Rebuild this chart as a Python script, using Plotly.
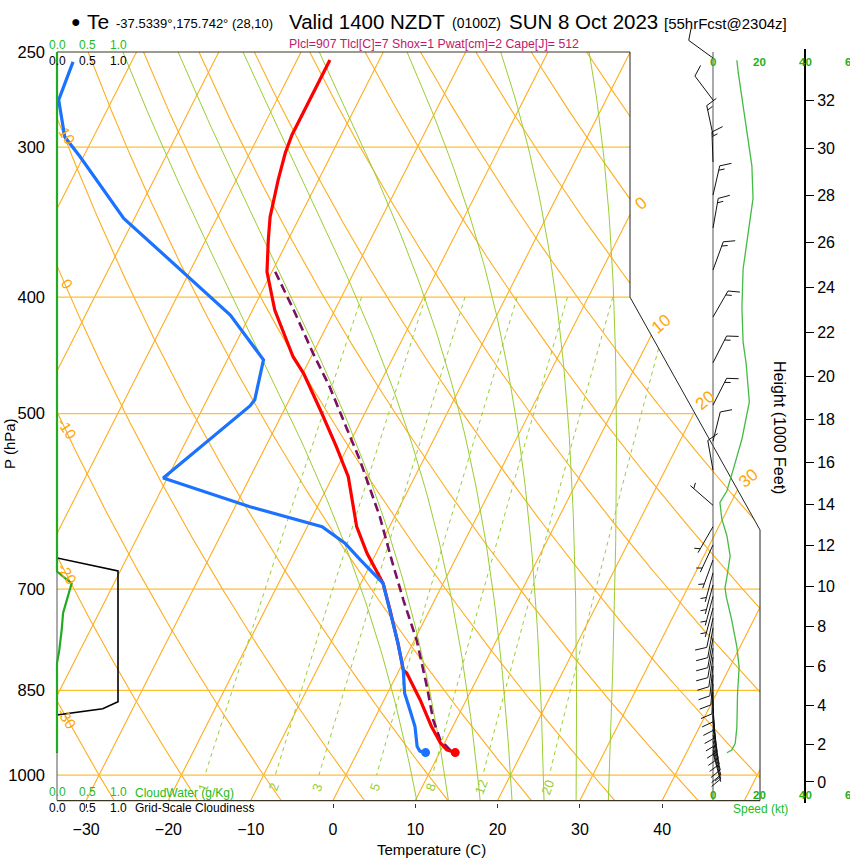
import numpy as np
import plotly.graph_objects as go

W, H = 850, 860

# ---------------- sounding data ----------------
temp_p = [253.9, 293.1, 303.4, 319.5, 343.0, 358.5, 381.0, 410.0, 448.4, 462.9, 496.6, 532.7,
          564.3, 621.1, 653.6, 692.3, 728.8, 776.6, 817.5, 822.2, 865.9, 911.0, 940.2, 952.8, 957.8]
temp_c = [-46.0, -46.0, -45.7, -44.9, -43.6, -42.4, -40.6, -37.3, -32.2, -29.9, -25.6, -21.4,
          -18.1, -14.0, -11.1, -7.3, -4.8, -1.8, 0.5, 1.1, 4.4, 7.4, 9.5, 10.7, 11.9]

dewp_p = [254.8, 274.1, 294.1, 305.6, 343.9, 413.9, 451.1, 487.0, 492.8, 565.8, 597.8, 621.1,
          641.1, 662.0, 692.3, 728.8, 776.6, 817.5, 854.9, 883.2, 911.0, 946.8, 955.0, 957.8]
dewp_c = [-77.1, -76.5, -73.5, -70.4, -61.3, -42.4, -35.6, -34.2, -34.4, -40.5, -28.2, -18.2,
          -14.4, -11.5, -7.3, -4.8, -1.8, 0.5, 2.1, 3.8, 5.4, 6.9, 7.5, 8.3]

parcel_p = [381.0, 410.0, 445.3, 475.0, 513.2, 546.7, 609.3, 662.0, 714.9, 772.3, 844.1,
            899.5, 934.8, 952.8, 957.8]
parcel_c = [-39.6, -35.0, -30.0, -25.9, -21.4, -17.7, -11.8, -7.7, -3.8, 0.3, 4.4,
            7.2, 9.3, 11.1, 11.9]

cloud_p = [250.0, 649.5, 676.9, 692.3, 708.0, 732.8, 756.6, 786.6, 806.6, 958.0]
cloud_water = [0.0, 0.0, 0.0, 0.24, 0.185, 0.10, 0.077, 0.038, 0.0, 0.0]

cover_p = [250.0, 659.5, 676.0, 868.8, 880.5, 891.1, 958.0]
cover = [0.0, 0.0, 1.0, 1.0, 0.75, 0.0, 0.0]

speed_p = [254, 260, 311, 331, 379, 408, 436, 454, 489, 525, 557, 580, 593, 612, 632, 657,
           684, 698, 710, 743, 782, 813, 855, 913, 941, 953, 958]
speed_kt = [10.3, 10.9, 16.8, 17.3, 13.0, 12.5, 13.0, 14.3, 15.7, 12.5, 8.7, 6.0, 3.0, 3.8,
            6.0, 7.4, 6.0, 5.2, 5.7, 8.1, 10.3, 11.3, 10.6, 10.3, 9.6, 8.1, 6.0]

barb_p = [252.9, 274.1, 293.1, 308.7, 328.9, 350.3, 379.7, 415.5, 453.6, 491.9, 527.1, 557.2,
          596.2, 621.1, 643.2, 662.0, 678.6, 694.6, 710.0, 725.9, 740.0, 754.4, 769.1, 784.0,
          797.5, 811.3, 825.3, 839.6, 852.5, 865.9, 878.9, 891.1, 903.1, 915.3, 925.8, 936.5,
          945.5, 952.8, 958.0]
barb_dir = [306, 323, 348, 358, 13, 10, 20, 30, 27, 27, 14, 350,
            311, 210, 205, 200, 195, 195, 195, 195, 192, 190, 190, 190,
            188, 186, 184, 182, 180, 178, 176, 174, 172, 170, 168, 166,
            165, 165, 165]
barb_kt = [10.2, 12.5, 14.7, 16.6, 17.2, 15.6, 13.0, 12.6, 14.3, 15.5, 12.3, 8.7,
           3.2, 4.8, 6.4, 7.1, 6.2, 5.4, 5.7, 6.9, 7.9, 8.8, 9.6, 10.4,
           10.8, 11.3, 11.1, 10.9, 10.6, 10.5, 10.5, 10.4, 10.3, 10.3, 10.0, 9.7,
           9.1, 8.2, 6.0]

height_kft = list(range(0, 34, 2))
temp_ticks = list(range(-30, 50, 10))
p_ticks = [250, 300, 400, 500, 700, 850, 1000]
p_lines = [300, 400, 500, 700, 850, 1000]
isotherms = list(range(-110, 60, 10))
dry_adiabats = list(range(-30, 180, 10))
moist_adiabats = [8, 12, 16, 20, 24, 28, 32]
mix_ratios = [1, 2, 3, 5, 8, 12, 20]

# ---------------- frame calibration (NCL style skew-T) ----------------
X0, KX = 333.0, 8.229      # px of 0C at 1050 hPa, px per degree
Y250, KY = 52.0, 521.6     # px of 250 hPa, px per ln(p)
SKEW = 74.0                # degrees per decade of pressure
P_TOP, P_BOT = 250.0, 1050.0
KT = 2.315                 # px per knot in the wind panel
XW0 = 713.0                # px of the wind staff line
XC0, KC = 57.0, 61.0       # cloud panel: px of 0 and px per unit


def p_of_py(py):
    return 250.0 * np.exp((py - Y250) / KY)


def ts_of_px(px):
    return (px - X0) / KX


def skew(t, p):
    return np.asarray(t, float) + SKEW * np.log10(P_BOT / np.asarray(p, float))


TS_L, TS_RT, TS_R = ts_of_px(57), ts_of_px(630), ts_of_px(760)
P_C1, P_C2 = 400.0, 625.0


def ts_max(p):
    f = np.clip((np.log(p) - np.log(P_C1)) / (np.log(P_C2) - np.log(P_C1)), 0, 1)
    return TS_RT + f * (TS_R - TS_RT)


def clip(xs, ps):
    xs = np.asarray(xs, float)
    ps = np.asarray(ps, float)
    g = np.minimum(ts_max(ps) - xs, xs - TS_L)
    ox, op = [], []
    for i in range(len(xs)):
        if i > 0 and (g[i - 1] >= 0) != (g[i] >= 0):
            f = g[i - 1] / (g[i - 1] - g[i])
            ox.append(xs[i - 1] + f * (xs[i] - xs[i - 1]))
            op.append(np.exp(np.log(ps[i - 1]) + f * (np.log(ps[i]) - np.log(ps[i - 1]))))
            if g[i] < 0:
                ox.append(None)
                op.append(None)
        if g[i] >= 0:
            ox.append(xs[i])
            op.append(ps[i])
    ox.append(None)
    op.append(None)
    return ox, op


pgrid = np.exp(np.linspace(np.log(P_TOP), np.log(P_BOT), 800))


def moist_temp(tw, p_arr):
    Rd, cp, Lv, eps = 287.04, 1005.7, 2.501e6, 0.622

    def f(lnp, T):
        p = np.exp(lnp)
        es = 6.112 * np.exp(17.67 * (T - 273.15) / (T - 29.65))
        rs = eps * es / (p - es)
        return (Rd * T + Lv * rs) / (cp + Lv * Lv * rs * eps / (Rd * T * T))

    out = []
    for target in p_arr:
        n = 60
        lp0, lp1 = np.log(1000.0), np.log(target)
        h = (lp1 - lp0) / n
        T, lp = tw + 273.15, lp0
        for _ in range(n):
            k1 = f(lp, T)
            k2 = f(lp + h / 2, T + h / 2 * k1)
            k3 = f(lp + h / 2, T + h / 2 * k2)
            k4 = f(lp + h, T + h * k3)
            T += h / 6 * (k1 + 2 * k2 + 2 * k3 + k4)
            lp += h
        out.append(T - 273.15)
    return np.array(out)


def mix_temp(w, p):
    e = w * p / (622.0 + w)
    a = np.log(e / 6.112)
    return 243.5 * a / (17.67 - a)


fig = go.Figure()


def add_line(xs, ys, color, width=1.0, dash=None, xa='x', ya='y'):
    fig.add_trace(go.Scatter(x=xs, y=ys, mode='lines', xaxis=xa, yaxis=ya,
                             line=dict(color=color, width=width, dash=dash),
                             hoverinfo='skip', showlegend=False))


ORANGE = '#ffad1f'
PLINE = '#ffbf33'
YGREEN = '#9acd32'

# isotherms + dry adiabats
bx, bp = [], []
for t in isotherms:
    a, b = clip(skew(t, pgrid), pgrid)
    bx += a; bp += b
for th in dry_adiabats:
    tt = (th + 273.15) * (pgrid / 1000.0) ** 0.2857 - 273.15
    a, b = clip(skew(tt, pgrid), pgrid)
    bx += a; bp += b
add_line(bx, bp, ORANGE, 1.1)

# pressure lines
lx, lp = [], []
for p in p_lines:
    xs = np.linspace(TS_L, TS_R, 400)
    a, b = clip(xs, np.full_like(xs, p))
    lx += a; lp += b
add_line(lx, lp, PLINE, 1.2)

# moist adiabats
mgrid = np.exp(np.linspace(np.log(P_TOP), np.log(P_BOT), 90))
mx, mp = [], []
for tw in moist_adiabats:
    a, b = clip(skew(moist_temp(tw, mgrid), mgrid), mgrid)
    mx += a; mp += b
add_line(mx, mp, YGREEN, 1.0)

# mixing ratio lines
wgrid = np.exp(np.linspace(np.log(400), np.log(1000), 200))
wx, wp = [], []
for w in mix_ratios:
    a, b = clip(skew(mix_temp(w, wgrid), wgrid), wgrid)
    wx += a; wp += b
add_line(wx, wp, YGREEN, 1.0, dash='4px,4px')

# frame
FRAME = '#3b3524'
add_line([TS_L, TS_RT], [P_TOP, P_TOP], FRAME, 1.2)
add_line([TS_L, TS_R], [P_BOT, P_BOT], FRAME, 1.2)
add_line([TS_RT, TS_RT, TS_R, TS_R], [P_TOP, P_C1, P_C2, P_BOT], '#222222', 1.0)
add_line([TS_L, TS_L], [P_TOP, P_BOT], '#555555', 1.0)

# parcel, temperature, dewpoint
add_line(skew(parcel_c, parcel_p), parcel_p, '#7b0f63', 2.6, dash='9px,5px')
add_line(skew(temp_c, temp_p), temp_p, '#ff0000', 3.2)
add_line(skew(dewp_c, dewp_p), dewp_p, '#1a72ff', 3.2)
fig.add_trace(go.Scatter(x=skew([temp_c[-1]], [temp_p[-1]]), y=[temp_p[-1]], mode='markers',
                         marker=dict(color='#ff0000', size=9), hoverinfo='skip', showlegend=False))
fig.add_trace(go.Scatter(x=skew([dewp_c[-1]], [dewp_p[-1]]), y=[dewp_p[-1]], mode='markers',
                         marker=dict(color='#1a72ff', size=9), hoverinfo='skip', showlegend=False))

# cloud panel (x3)
add_line(cover, cover_p, '#000000', 1.6, xa='x3')
add_line(cloud_water, cloud_p, '#22aa22', 2.2, xa='x3')

# wind panel (x2 / y2)
add_line([0, 0], [P_TOP, P_BOT], '#555555', 1.0, xa='x2', ya='y2')
add_line(speed_kt, speed_p, '#44bb44', 1.3, xa='x2', ya='y2')

L_STAFF, L_FULL, SPACING, FANG = 30.0, 12.0, 4.5, 65.0
bxs, bps = [], []
for p, d, s in zip(barb_p, barb_dir, barb_kt):
    r = np.deg2rad(d)
    ux, uy = np.sin(r), -np.cos(r)
    tip = (L_STAFF * ux, L_STAFF * uy)
    segs = [((0.0, 0.0), tip)]
    n5 = int(round(s / 5.0))
    full, half = divmod(n5, 2)
    fr = np.deg2rad(d + FANG)
    fx, fy = np.sin(fr), -np.cos(fr)
    pos = 0.0
    for _ in range(full):
        b0 = (tip[0] - pos * ux, tip[1] - pos * uy)
        segs.append((b0, (b0[0] + L_FULL * fx, b0[1] + L_FULL * fy)))
        pos += SPACING
    if half:
        if full == 0:
            pos = SPACING
        b0 = (tip[0] - pos * ux, tip[1] - pos * uy)
        segs.append((b0, (b0[0] + 0.5 * L_FULL * fx, b0[1] + 0.5 * L_FULL * fy)))
    for (x1, y1), (x2, y2) in segs:
        bxs += [x1 / KT, x2 / KT, None]
        bps += [p * np.exp(y1 / KY), p * np.exp(y2 / KY), None]
add_line(bxs, bps, '#111111', 1.0, xa='x2', ya='y2')

# dummy trace for height axis
height_p = [1013.25 * (1 - 2.25577e-5 * h * 304.8) ** 5.25588 for h in height_kft]
fig.add_trace(go.Scatter(x=[None], y=[None], yaxis='y3', showlegend=False))

# ---------------- annotations ----------------
FONT = 'Liberation Sans, Arial, sans-serif'
ann = []


def px_note(text, x, y, size, color='#000000', xanchor='center', angle=0, yanchor='middle'):
    ann.append(dict(text=text, x=x / W, y=1 - y / H, xref='paper', yref='paper',
                    xanchor=xanchor, yanchor=yanchor, showarrow=False, textangle=angle,
                    font=dict(family=FONT, size=size, color=color)))


# isotherm labels on the right edge
for t in [0, 10, 20, 30]:
    xs = skew(t, pgrid)
    g = ts_max(pgrid) - xs
    i = np.argmax(g >= 0)
    ann.append(dict(text=str(t), x=xs[i], y=np.log10(pgrid[i]), xref='x', yref='y',
                    showarrow=False, xshift=11, yshift=12, textangle=-40,
                    font=dict(family=FONT, size=17, color='#ffa500')))
# dry adiabat labels on the left edge
for th in [-30, -20, -10, 0, 10]:
    tt = (th + 273.15) * (pgrid / 1000.0) ** 0.2857 - 273.15
    g = skew(tt, pgrid) - TS_L
    i = np.argmax(g >= 0)
    ann.append(dict(text=str(th), x=TS_L, y=np.log10(pgrid[i]), xref='x', yref='y',
                    showarrow=False, xshift=10, yshift=-17, textangle=57,
                    font=dict(family=FONT, size=15, color='#ffa500')))
# mixing ratio labels
for w in mix_ratios:
    ann.append(dict(text=str(w), x=float(skew(mix_temp(w, 1000.0), 1000.0)), y=3.0,
                    xref='x', yref='y', showarrow=False, xshift=-2, yshift=-12, textangle=-70,
                    font=dict(family=FONT, size=13, color=YGREEN)))

# header
px_note('\u25cf', 76, 22, 16)
px_note('Te', 85, 22, 21, xanchor='left')
px_note('-37.5339\u00b0,175.742\u00b0 (28,10)', 114, 23, 13, xanchor='left')
px_note('Valid 1400 NZDT', 287, 22, 20.5, xanchor='left')
px_note('(0100Z)', 450, 23, 14, xanchor='left')
px_note('SUN 8 Oct 2023', 507, 22, 20.5, xanchor='left')
px_note('[55hrFcst@2304z]', 662, 23, 15, xanchor='left')
px_note('Plcl=907 Tlcl[C]=7 Shox=1 Pwat[cm]=2 Cape[J]= 512', 287, 44, 12.3,
        color='#c0186c', xanchor='left')

# cloud panel scale labels
for v in [0.0, 0.5, 1.0]:
    xp = XC0 + KC * v
    px_note('%.1f' % v, xp, 45, 12, '#22bb22')
    px_note('%.1f' % v, xp, 61, 12)
    px_note('%.1f' % v, xp, 792, 12, '#22bb22')
    px_note('%.1f' % v, xp, 808, 12)
px_note('CloudWater (g/Kg)', 133, 793, 12, '#22bb22', xanchor='left')
px_note('Grid-Scale Cloudiness', 133, 808, 12, xanchor='left')

# wind panel speed labels
for v in [0, 20, 40, 60]:
    xp = XW0 + KT * v
    px_note('<b>%d</b>' % v, xp, 62, 11.5, '#22b014')
    px_note('<b>%d</b>' % v, xp, 795, 11.5, '#22b014')
px_note('Speed (kt)', 760, 809, 12, '#22bb22')

px_note('Temperature (C)', 431, 849, 15)
px_note('P (hPa)', 9, 444, 15, angle=-90)
px_note('Height (1000 Feet)', 780, 427, 16, angle=90)

# ---------------- layout ----------------
ymain = [np.log10(p_of_py(803)), np.log10(p_of_py(49))]
fig.update_layout(
    template='none',
    width=W, height=H, margin=dict(l=0, r=0, t=0, b=0, pad=0, autoexpand=False),
    paper_bgcolor='white', plot_bgcolor='rgba(0,0,0,0)', showlegend=False,
    font=dict(family=FONT, color='#000000'),
    xaxis=dict(domain=[54 / W, 763 / W], range=[ts_of_px(54), ts_of_px(763)], anchor='y',
               tickvals=temp_ticks, ticks='outside', ticklen=4, tickcolor='#333333',
               tickfont=dict(size=16, color='#000000'), ticklabelstandoff=8, automargin=False,
               showgrid=False, zeroline=False, showline=False),
    yaxis=dict(domain=[1 - 803 / H, 1 - 49 / H], type='log', range=ymain, anchor='x',
               tickvals=p_ticks, ticktext=[str(p) for p in p_ticks], ticks='',
               tickfont=dict(size=16.5, color='#000000'), ticklabelstandoff=8, automargin=False,
               showgrid=False, zeroline=False, showline=False),
    xaxis3=dict(domain=[54 / W, 400 / W], range=[(54 - XC0) / KC, (400 - XC0) / KC],
                anchor='y', visible=False, automargin=False),
    xaxis2=dict(domain=[640 / W, 1.0], range=[(640 - XW0) / KT, (W - XW0) / KT],
                anchor='y2', visible=False, automargin=False),
    yaxis2=dict(domain=[0, 1], type='log', anchor='x2', visible=False, automargin=False,
                range=[np.log10(p_of_py(H)), np.log10(p_of_py(0))]),
    yaxis3=dict(overlaying='y', anchor='free', position=805 / W, side='right', type='log',
                range=ymain, tickvals=height_p, ticktext=[str(h) for h in height_kft],
                ticks='outside', ticklen=8, tickwidth=1.2, tickcolor='#000000',
                showline=True, linewidth=2, linecolor='#000000',
                tickfont=dict(size=16, color='#000000'), automargin=False,
                showgrid=False, zeroline=False),
    annotations=ann,
)

# the page body has a default 8px margin; remove it so the figure sits at the window origin
fig.write_html('out.html', config={'displayModeBar': False},
               post_script="document.body.style.margin='0px';")
